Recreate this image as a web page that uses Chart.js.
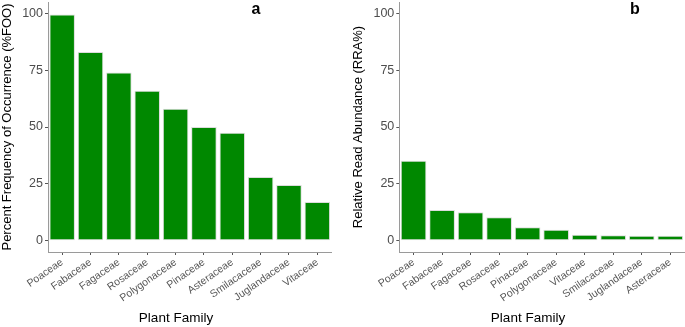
<!DOCTYPE html>
<html>
<head>
<meta charset="utf-8">
<script src="https://cdn.jsdelivr.net/npm/chart.js@4"></script>
<style>
  body { margin: 0; background: #fff; }
  canvas { position: absolute; top: 0; }
  #chartA { left: 0; }
  #chartB { left: 340px; }
</style>
</head>
<body>
<canvas id="chartA" width="340" height="327"></canvas>
<canvas id="chartB" width="345" height="327"></canvas>
<script>
// panel a - frequency of occurrence
const familiesA = ["Poaceae", "Fabaceae", "Fagaceae", "Rosaceae", "Polygonaceae", "Pinaceae", "Asteraceae", "Smilacaceae", "Juglandaceae", "Vitaceae"];
const foo = [99.5, 83, 74, 66, 58, 50, 47.5, 28, 24.5, 17];

// panel b - relative read abundance
const familiesB = ["Poaceae", "Fabaceae", "Fagaceae", "Rosaceae", "Pinaceae", "Polygonaceae", "Vitaceae", "Smilacaceae", "Juglandaceae", "Asteraceae"];
const rra = [35.2, 13.5, 12.5, 10.3, 5.9, 4.8, 2.6, 2.4, 2.2, 2.2];

const yTicks = [0, 25, 50, 75, 100];

const FONT = "'Liberation Sans', Arial, sans-serif";

// draws the x title and the panel letter
const extraText = {
  id: 'extraText',
  afterDraw(chart, args, opts) {
    const ctx = chart.ctx;
    ctx.save();
    ctx.fillStyle = '#000';
    ctx.textAlign = 'center';
    ctx.textBaseline = 'alphabetic';
    ctx.font = '13.5px ' + FONT;
    ctx.fillText('Plant Family', opts.titleX, 321.5);
    ctx.font = 'bold 16px ' + FONT;
    ctx.fillText(opts.letter, opts.letterX, 13.5);
    ctx.restore();
  }
};

function makeChart(id, labels, values, yTitle, o) {
  const ctx = document.getElementById(id).getContext('2d');
  return new Chart(ctx, {
    type: 'bar',
    data: {
      labels: labels,
      datasets: [{
        data: values,
        backgroundColor: '#008800',
        borderColor: '#dcdcdc',
        borderWidth: 1,
        borderSkipped: false,
        categoryPercentage: 0.9,
        barPercentage: 1.0
      }]
    },
    options: {
      responsive: false,
      animation: false,
      layout: { padding: { top: 2, right: o.padRight, left: o.padLeft, bottom: 0 } },
      plugins: {
        legend: { display: false },
        tooltip: { enabled: false },
        extraText: { titleX: o.titleX, letter: o.letter, letterX: o.letterX }
      },
      scales: {
        x: {
          offset: true,
          border: { display: true, color: '#9a9a9a', width: 1 },
          grid: { display: true, drawOnChartArea: false, drawTicks: true, tickLength: 3, color: '#555', offset: false },
          ticks: {
            minRotation: 35, maxRotation: 35, padding: 1,
            color: '#555', font: { family: FONT, size: 10.5 }
          },
          afterFit(scale) {
            scale.height = 75;
            scale.paddingLeft = 0;
            scale.paddingRight = 0;
          }
        },
        y: {
          min: -5, max: 105,
          border: { display: true, color: '#9a9a9a', width: 1 },
          grid: { display: true, drawOnChartArea: false, drawTicks: true, tickLength: 3, color: '#555' },
          ticks: { padding: 2, color: '#4d4d4d', font: { family: FONT, size: 12.5 } },
          afterBuildTicks(scale) {
            scale.ticks = yTicks.map(v => ({ value: v }));
          },
          title: {
            display: true, text: yTitle, color: '#000',
            font: { family: FONT, size: 13 }, padding: 0
          },
          afterFit(scale) {
            scale.width = o.yWidth;
            scale.paddingTop = 0;
            scale.paddingBottom = 0;
          }
        }
      }
    },
    plugins: [extraText]
  });
}

makeChart('chartA', familiesA, foo, 'Percent Frequency of Occurrence (%FOO)',
  { padLeft: 0, padRight: 8.5, yWidth: 48, titleX: 176, letter: 'a', letterX: 256 });
makeChart('chartB', familiesB, rra, 'Relative Read Abundance (RRA%)',
  { padLeft: 11, padRight: 0.5, yWidth: 48.3, titleX: 188, letter: 'b', letterX: 295 });
</script>
</body>
</html>
